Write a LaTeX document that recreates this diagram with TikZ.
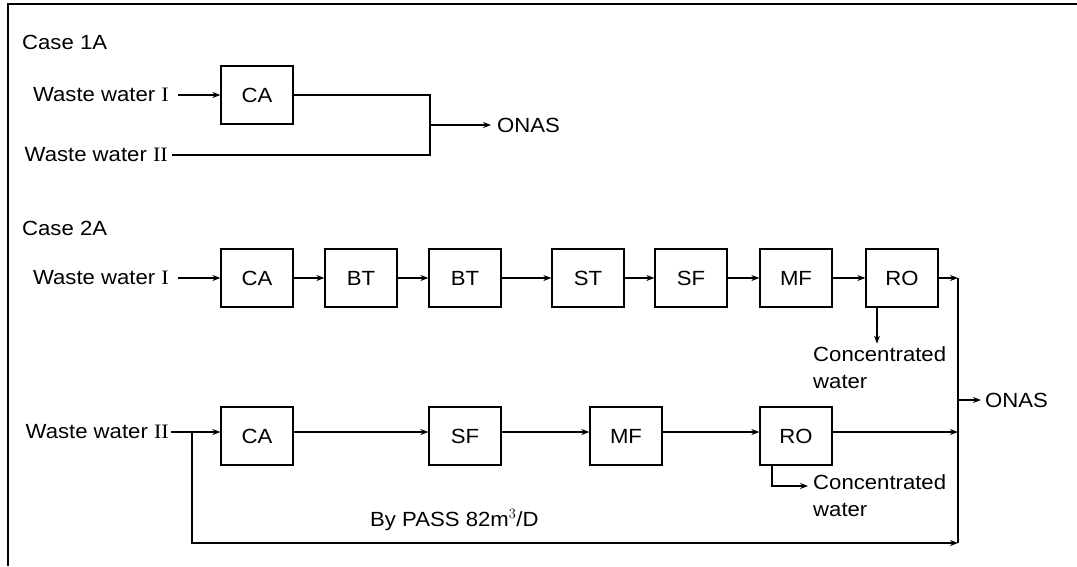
\documentclass[tikz,border=0pt]{standalone}
\usepackage{fontspec}
\setmainfont[FakeStretch=1.08]{Liberation Sans}
\newfontfamily\romfont[FakeStretch=1.08]{Liberation Serif}
\usetikzlibrary{arrows.meta,calc}
\begin{document}
\begin{tikzpicture}[x=1pt,y=-1pt,
  every node/.style={font=\fontsize{20.5}{27}\selectfont},
  proc/.style={draw,line width=1.3pt,minimum width=72pt,minimum height=58pt,inner sep=0pt},
  lbl/.style={inner sep=0pt},
  flow/.style={line width=1.1pt},
  arr/.style={flow,-{Stealth[length=8pt,width=6pt]}}]
\useasboundingbox (0,0) rectangle (1077,566);
% frame
\draw[line width=2pt] (8,566) -- (8,4) -- (1077,4);
% Case 1A
\node[lbl,anchor=west] (c1) at (22,42) {Case 1A};
\node[lbl,anchor=east] (w1a) at (169,95) {Waste water {\romfont I}};
\node[proc] (ca1) at (257,95) {CA};
\node[lbl,anchor=east] (w2a) at (168,155) {Waste water {\romfont II}};
\coordinate (j1) at (430,125);
\node[lbl,anchor=west] (onas1) at (497,125) {ONAS};
\draw[arr] ([xshift=9pt]w1a.east) -- (ca1.west);
\draw[flow] (ca1.east) -| (j1) |- ([xshift=4pt]w2a.east);
\draw[arr] (j1) -- ([xshift=-6pt]j1 -| onas1.west);
% Case 2A
\node[lbl,anchor=west] (c2) at (22,228) {Case 2A};
\node[lbl,anchor=east] (w1b) at (169,278) {Waste water {\romfont I}};
\node[proc] (ca2) at (257,278) {CA};
\node[proc] (bt1) at (361,278) {BT};
\node[proc] (bt2) at (465,278) {BT};
\node[proc] (st) at (588,278) {ST};
\node[proc] (sf1) at (691,278) {SF};
\node[proc] (mf1) at (796,278) {MF};
\node[proc] (ro1) at (902,278) {RO};
\coordinate (j2) at (958,278);
\coordinate (jb) at (958,543);
\coordinate (jo) at (958,400);
\draw[arr] ([xshift=9pt]w1b.east) -- (ca2.west);
\draw[arr] (ca2) -- (bt1);
\draw[arr] (bt1) -- (bt2);
\draw[arr] (bt2) -- (st);
\draw[arr] (st) -- (sf1);
\draw[arr] (sf1) -- (mf1);
\draw[arr] (mf1) -- (ro1);
\draw[arr] (ro1) -- (j2);
\draw[flow] (j2) -- (jb);
\node[lbl,anchor=north west,align=left] (cw1) at (813,346) {Concentrated\\water};
\draw[arr] ($(ro1.south)+(-25,0)$) -- ++(0,36);
% row 2
\node[lbl,anchor=east] (w2b) at (169,432) {Waste water {\romfont II}};
\node[proc] (ca3) at (257,436) {CA};
\node[proc] (sf2) at (465,436) {SF};
\node[proc] (mf2) at (626,436) {MF};
\node[proc] (ro2) at (796,436) {RO};
\coordinate (jw) at (192,432);
\draw[arr] ([xshift=2pt]w2b.east) -- (ca3.west |- w2b.east);
\draw[arr] (ca3.east |- jw) -- (sf2.west |- jw);
\draw[arr] (sf2.east |- jw) -- (mf2.west |- jw);
\draw[arr] (mf2.east |- jw) -- (ro2.west |- jw);
\draw[arr] (ro2.east |- jw) -- (j2 |- jw);
\draw[arr] (jw) |- (jb);
\node[lbl,anchor=west] (onas2) at (985,400) {ONAS};
\draw[arr] (jo) -- ([xshift=-4pt]jo -| onas2.west);
\node[lbl,anchor=north west,align=left] (cw2) at (813,474) {Concentrated\\water};
\draw[arr] ($(ro2.south)+(-24,0)$) |- ([xshift=-5pt]cw2.west |- 0,486);
\node[lbl,anchor=west] (bp) at (370,520) {By PASS 82m$^3$/D};
\end{tikzpicture}
\end{document}
